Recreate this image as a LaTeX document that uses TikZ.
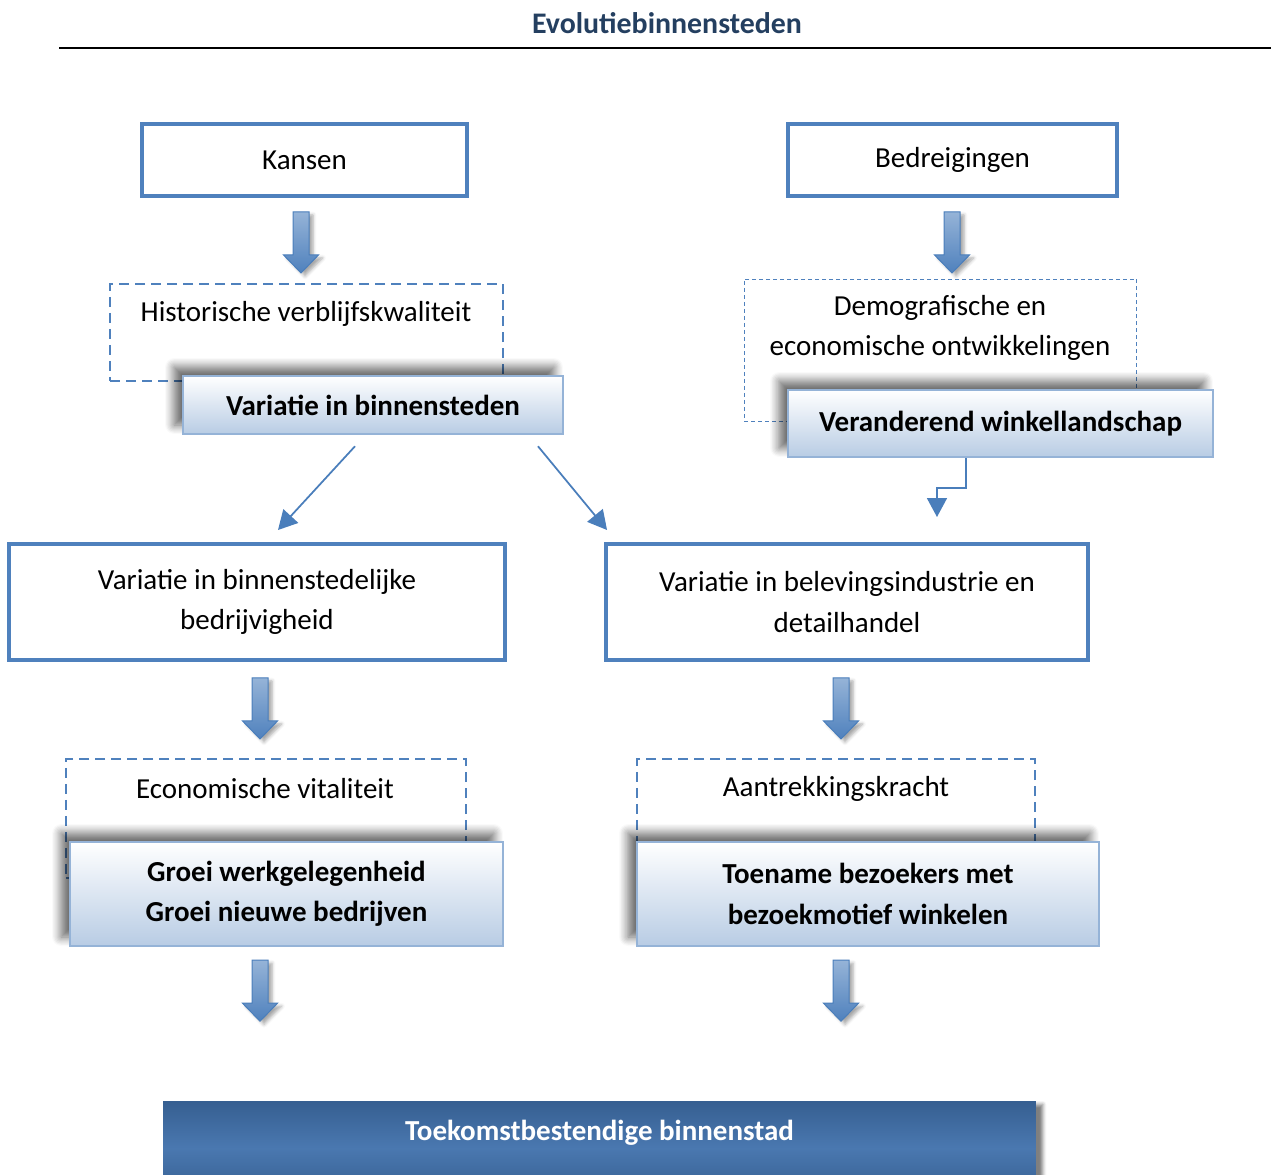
\documentclass[tikz,border=0pt]{standalone}
\usepackage{fontspec}
\setmainfont{Carlito}
\usepackage{tikz}
\usetikzlibrary{arrows.meta}
\usetikzlibrary{shadows.blur}

\definecolor{ofblue}{HTML}{4F81BD}
\definecolor{lineblue}{HTML}{4A7EBB}
\definecolor{edgeblue}{HTML}{95B3D7}
\definecolor{gradblue}{HTML}{B8CCE4}
\definecolor{titlenavy}{HTML}{243F60}
\definecolor{darkblue}{HTML}{365F91}
\definecolor{midblue}{HTML}{4A78B0}

\begin{document}
\begin{tikzpicture}
 [ x=0.02cm, y=-0.02cm
 , every node/.style={font=\fontsize{16.5pt}{23pt}\selectfont}
 , heavybox/.style={draw=ofblue, line width=0.08cm, align=center, inner sep=0pt}
 , dashframe/.style={draw=ofblue, line width=0.04cm, dash pattern=on 0.2cm off 0.12cm, inner sep=0pt}
 , finedash/.style={draw=ofblue, line width=0.02cm, dash pattern=on 0.08cm off 0.06cm, inner sep=0pt}
 , shadedbox/.style={draw=edgeblue, line width=0.05cm, top color=white, bottom color=gradblue,
     align=center, inner sep=0pt, font=\fontsize{16.5pt}{23pt}\selectfont\bfseries,
     blur shadow={shadow xshift=-0.18cm, shadow yshift=0.18cm, shadow blur radius=0.18cm,
       shadow opacity=60, shadow blur steps=8}}
 , darkbox/.style={top color=darkblue, bottom color=darkblue, middle color=midblue,
     text=white, inner ysep=0pt, font=\fontsize{16.5pt}{23pt}\selectfont\bfseries,
     blur shadow={shadow xshift=0.14cm, shadow yshift=-0.06cm, shadow opacity=50}}
 , thinarrow/.style={draw=lineblue, line width=0.035cm, -{Triangle[length=0.38cm, width=0.4cm]}}
 , bigarrow/.pic={
     \path[draw=lineblue, line width=0.02cm, top color=ofblue!60!white, bottom color=ofblue,
       blur shadow={shadow xshift=0.08cm, shadow yshift=-0.06cm, shadow opacity=35}]
       (-8,0) -- (8,0) -- (8,43) -- (17.5,43) -- (0,61) -- (-17.5,43) -- (-8,43) -- cycle;
   }
 ]
  \clip (0,0) rectangle (1271,1175);

  % heading
  \node[font=\fontsize{17pt}{20pt}\selectfont\bfseries, text=titlenavy] (title) at (667,23) {Evolutiebinnensteden};
  \draw[line width=0.04cm] (59,48) -- (1271,48);

  % top row
  \node[heavybox, minimum width=6.5cm, minimum height=1.44cm] (kansen) at (304.5,160) {Kansen};
  \node[heavybox, minimum width=6.58cm, minimum height=1.44cm] (bedreig) at (952.5,160) {Bedreigingen};
  \pic (kansarrow) at ([xshift=-0.07cm,yshift=-0.28cm]kansen.south) {bigarrow};
  \pic (bedrarrow) at ([xshift=-0.01cm,yshift=-0.28cm]bedreig.south) {bigarrow};

  % dashed frames
  \node[dashframe, minimum width=7.86cm, minimum height=1.94cm] (histframe) at (306.5,332.5) {};
  \node (hist) at (306,314) {Historische verblijfskwaliteit};
  \node[finedash, minimum width=7.86cm, minimum height=2.86cm] (demoframe) at (940.5,350.5) {};
  \node[align=center] (demo) at (940,328) {Demografische en\\economische ontwikkelingen};

  \node[shadedbox, minimum width=7.6cm, minimum height=1.16cm] (var) at (373,405) {Variatie in binnensteden};
  \node[shadedbox, minimum width=8.5cm, minimum height=1.34cm] (verand) at (1000.5,423.5) {Veranderend winkellandschap};

  % middle row
  \node[heavybox, minimum width=9.92cm, minimum height=2.32cm] (bedrijv) at (257,602)
    {Variatie in binnenstedelijke\\bedrijvigheid};
  \node[heavybox, minimum width=9.64cm, minimum height=2.32cm] (belev) at (847,602)
    {Variatie in belevingsindustrie en\\detailhandel};

  \draw[thinarrow] ([xshift=-0.36cm,yshift=-0.22cm]var.south) -- ([xshift=0.42cm,yshift=0.24cm]bedrijv.north);
  \draw[thinarrow] ([xshift=3.3cm,yshift=-0.22cm]var.south) -- ([xshift=-4.8cm,yshift=0.24cm]belev.north);
  \draw[thinarrow] ([xshift=-0.69cm]verand.south) -- ++(0,30) -| ([xshift=1.8cm,yshift=0.5cm]belev.north);

  \pic (bedrarrowb) at ([xshift=0.06cm,yshift=-0.32cm]bedrijv.south) {bigarrow};
  \pic (belevarrow) at ([xshift=-0.12cm,yshift=-0.32cm]belev.south) {bigarrow};

  % lower row
  \node[dashframe, minimum width=8cm, minimum height=2.38cm] (ecoframe) at (266,818.5) {};
  \node (eco) at (265,789) {Economische vitaliteit};
  \node[dashframe, minimum width=7.96cm, minimum height=2.38cm] (aanframe) at (836,818.5) {};
  \node (aan) at (836,789) {Aantrekkingskracht};

  \node[shadedbox, minimum width=8.66cm, minimum height=2.08cm] (groei) at (286.5,894)
    {Groei werkgelegenheid\\Groei nieuwe bedrijven};
  \node[shadedbox, minimum width=9.24cm, minimum height=2.08cm] (toename) at (868,894)
    {Toename bezoekers met\\bezoekmotief winkelen};

  \pic (groeiarrow) at ([xshift=-0.53cm,yshift=-0.26cm]groei.south) {bigarrow};
  \pic (toenarrow) at ([xshift=-0.54cm,yshift=-0.26cm]toename.south) {bigarrow};

  % bottom
  \node[darkbox, anchor=north, minimum width=17.46cm, text height=22.1pt, text depth=31.2pt] (stad) at (599.5,1101)
    {Toekomstbestendige binnenstad};
\end{tikzpicture}
\end{document}
